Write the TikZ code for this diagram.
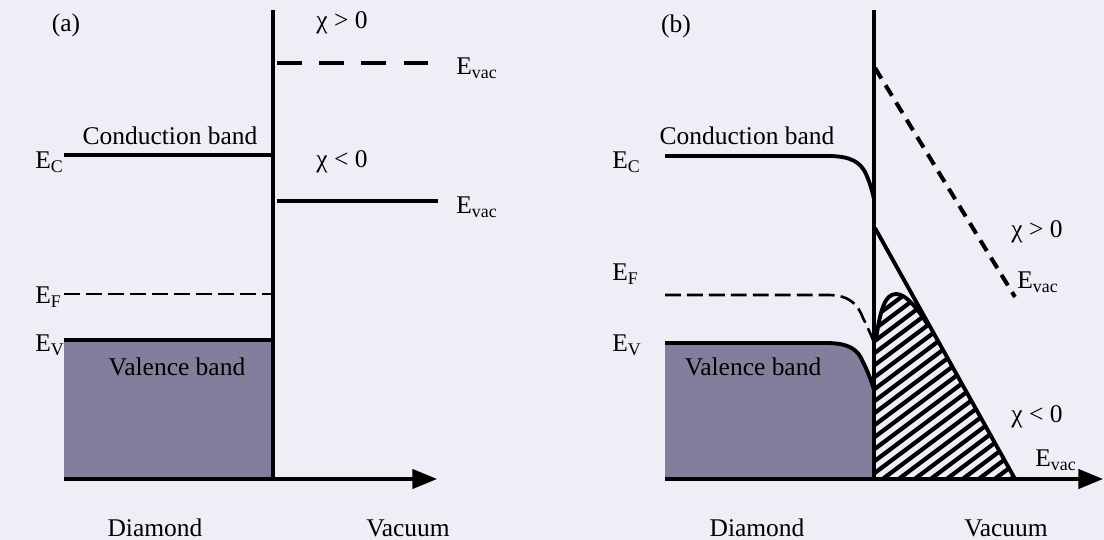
\documentclass[tikz,border=0pt]{standalone}
\usepackage{fontspec}
\setmainfont{Liberation Serif}
\usetikzlibrary{arrows.meta}
\definecolor{paper}{RGB}{238,238,247}
\definecolor{valfill}{RGB}{132,126,157}
\tikzset{
  level/.style={line width=2.2pt},
  fermi/.style={line width=1.5pt,dash pattern=on 9pt off 3.5pt},
  vaclvl/.style={line width=2.2pt,dash pattern=on 14pt off 10pt},
  vacslope/.style={line width=2.3pt,dash pattern=on 7pt off 4.5pt},
  axisline/.style={line width=1.8pt,-{Triangle[length=14pt,width=11pt]}},
  wall/.style={line width=2.4pt},
  lbl/.style={inner sep=0pt,font=\fontsize{14.5}{17}\selectfont},
  sub/.style={inner sep=0pt,anchor=west,font=\fontsize{14.5}{17}\selectfont},
}
\newcommand{\En}[1]{E\textsubscript{#1}}

\begin{document}
\begin{tikzpicture}[x=0.02cm,y=-0.02cm]
  \useasboundingbox (0,0) rectangle (1104,540);
  \fill[paper] (0,0) rectangle (1104,540);

  % (a) flat bands
  \fill[valfill] (64,340) rectangle (273,479);
  \draw[level] (64,155) -- (273,155);
  \draw[fermi] (64,294) -- (273,294);
  \draw[level] (64,340) -- (273,340);
  \draw[vaclvl] (277,63) -- (438,63);
  \draw[level] (277,201) -- (438,201);
  \draw[wall] (273,10) -- (273,479);
  \draw[axisline] (64,479) -- (437,479);

  \node[lbl] (taga) at (66,25) {(a)};
  \node[lbl] (cba) at (170,136) {Conduction band};
  \node[lbl] (vba) at (177,367) {Valence band};
  \node[sub] (ECa) at (35,162) {\En{C}};
  \node[sub] (EFa) at (35,297) {\En{F}};
  \node[sub] (EVa) at (35,345) {\En{V}};
  \node[lbl] (chipa) at (342,23) {χ > 0};
  \node[lbl] (chima) at (342,162) {χ < 0};
  \node[sub] (vacpa) at (456,68) {\En{vac}};
  \node[sub] (vacma) at (456,207) {\En{vac}};
  \node[lbl] (diaa) at (155,528) {Diamond};
  \node[lbl] (vaca) at (408,528) {Vacuum};

  % (b) bent bands
  \fill[valfill] (665,343) -- (826,343) .. controls (850,343) and (858,350) .. (863,362)
    .. controls (868,372) and (871,380) .. (874,390) -- (874,479) -- (665,479) -- cycle;
  \draw[level] (665,156) -- (828,156) .. controls (852,156) and (860,163) .. (865,172)
    .. controls (869,180) and (872,190) .. (874,199);
  \draw[fermi] (665,295) -- (828,295) .. controls (850,295) and (858,305) .. (863,318)
    .. controls (868,328) and (871,335) .. (873,340);
  \draw[level] (665,343) -- (826,343) .. controls (850,343) and (858,350) .. (863,362)
    .. controls (868,372) and (871,380) .. (874,390);
  \begin{scope}
    \clip (876,479) -- (876,340) .. controls (880,310) and (885,294) .. (896,294)
      .. controls (905,294) and (915,305) .. (928,325) -- (1015,479) -- cycle;
    \foreach \d in {612,628,...,1010}
      \draw[line width=2.4pt] (\d,490) -- ++(300,-225);
  \end{scope}
  \draw[level,line join=round] (876,340) .. controls (880,310) and (885,294) .. (896,294)
      .. controls (905,294) and (915,305) .. (928,325);
  \draw[level] (875,228) -- (1015,479);
  \draw[vacslope] (875,68) -- (1015,297);
  \draw[wall] (874,10) -- (874,479);
  \draw[axisline] (665,479) -- (1103,479);

  \node[lbl] (tagb) at (676,26) {(b)};
  \node[lbl] (cbb) at (747,136) {Conduction band};
  \node[lbl] (vbb) at (753,367) {Valence band};
  \node[sub] (ECb) at (612,162) {\En{C}};
  \node[sub] (EFb) at (612,274) {\En{F}};
  \node[sub] (EVb) at (612,345) {\En{V}};
  \node[lbl] (chipb) at (1037,232) {χ > 0};
  \node[sub] (vacpb) at (1017,282) {\En{vac}};
  \node[lbl] (chimb) at (1037,417) {χ < 0};
  \node[sub] (vacmb) at (1035,460) {\En{vac}};
  \node[lbl] (diab) at (757,528) {Diamond};
  \node[lbl] (vacb) at (1006,528) {Vacuum};
\end{tikzpicture}
\end{document}
